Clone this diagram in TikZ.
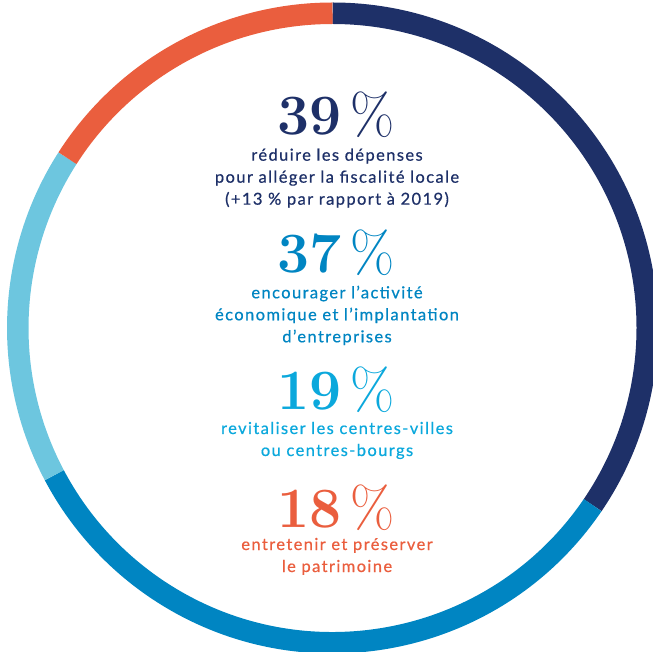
\documentclass[tikz,border=0pt]{standalone}
\usepackage{fontspec}
\newfontfamily\txtfont[LetterSpace=8.5,FakeBold=0.6]{Lato}
\usetikzlibrary{calc,positioning}
\definecolor{navy}{HTML}{1E3068}
\definecolor{ringblue}{HTML}{0085C2}
\definecolor{lightblue}{HTML}{6DC6DF}
\definecolor{coral}{HTML}{EA5E3E}
\definecolor{skyblue}{HTML}{0BA8DC}
\tikzset{
  ring/.style={line width=21.5pt},
  pct/.style={inner sep=0pt,anchor=base,font=\fontsize{57}{57}\selectfont\bfseries},
  lbl/.style={inner sep=0pt,anchor=base,align=center,font=\txtfont\fontsize{16.5}{22}\selectfont}
}
\begin{document}
\begin{tikzpicture}[x=1pt,y=1pt]
\useasboundingbox (0,0) rectangle (653,651);
\clip (0,0) rectangle (653,651);
\coordinate (O) at (332.5,323);
% ring, 39/37/19/18 of 113
\foreach \a/\b/\c in {90/-34.25/navy,-34.25/-152.12/ringblue,-152.12/-212.65/lightblue,-212.65/-270/coral}{\draw[ring,\c] (O) ++(\a:314.75) arc[start angle=\a,end angle=\b,radius=314.75];}
\node[pct,text=navy] (n39) at (336,516) {39\kern9pt{\mdseries\%}};
\node[lbl,text=navy] (t39) at ($(n39.base)+(1,-69.7)$) {réduire les dépenses\\pour alléger la fiscalité locale\\(+13~\% par rapport à 2019)};
\node[pct,text=ringblue] (n37) at (336,378) {37\kern9pt{\mdseries\%}};
\node[lbl,text=ringblue] (t37) at ($(n37.base)+(1,-69.3)$) {encourager l’activité\\économique et l’implantation\\d’entreprises};
\node[pct,text=skyblue] (n19) at (336,241) {19\kern9pt{\mdseries\%}};
\node[lbl,text=skyblue] (t19) at ($(n19.base)+(1,-46)$) {revitaliser les centres-villes\\ou centres-bourgs};
\node[pct,text=coral] (n18) at (336,124) {18\kern9pt{\mdseries\%}};
\node[lbl,text=coral] (t18) at ($(n18.base)+(1,-45)$) {entretenir et préserver\\le patrimoine};
\end{tikzpicture}
\end{document}
